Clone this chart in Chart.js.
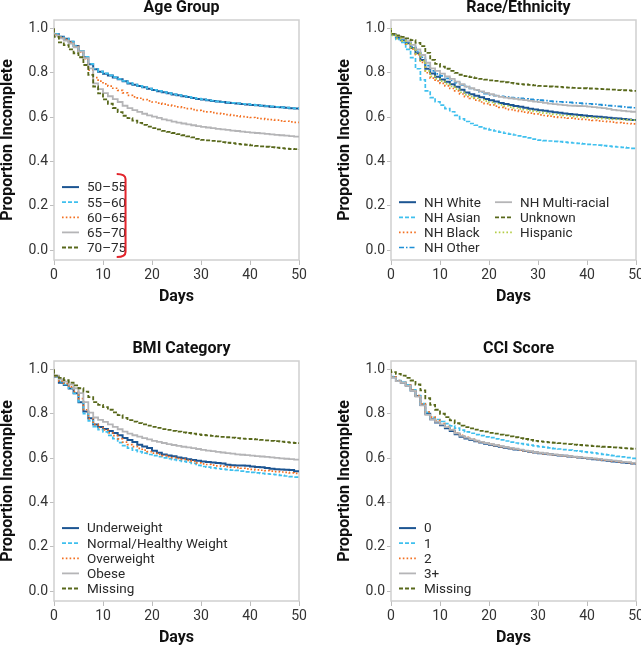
<!DOCTYPE html>
<html>
<head>
<meta charset="utf-8">
<script src="https://cdn.jsdelivr.net/npm/chart.js@4.4.1/dist/chart.umd.min.js"></script>
<style>
  html, body { margin: 0; padding: 0; background: #fff; }
  body { width: 641px; height: 647px; overflow: hidden; position: relative; }
  canvas { position: absolute; }
</style>
</head>
<body>
<canvas id="age" width="320" height="306" style="left:0;top:0"></canvas>
<canvas id="race" width="320" height="306" style="left:337px;top:0"></canvas>
<canvas id="bmi" width="320" height="306" style="left:0;top:341px"></canvas>
<canvas id="cci" width="320" height="306" style="left:337px;top:341px"></canvas>
<script>
// follow-up days (one value per day, value after that day's drop)
const days = Array.from({ length: 51 }, (_, i) => i);
const xTicks = [0, 10, 20, 30, 40, 50];
const yTicks = [0, 0.2, 0.4, 0.6, 0.8, 1.0];

// ---- Age Group ----
const ageLabels = ["50–55", "55–60", "60–65", "65–70", "70–75"];
const age50 = [0.974,0.962,0.953,0.940,0.921,0.898,0.870,0.838,0.816,0.804,0.796,0.787,0.779,0.771,0.762,0.752,0.746,0.740,0.734,0.728,0.722,0.717,0.712,0.707,0.702,0.698,0.694,0.690,0.686,0.682,0.679,0.676,0.673,0.670,0.668,0.665,0.663,0.661,0.659,0.657,0.655,0.653,0.651,0.649,0.647,0.645,0.644,0.642,0.640,0.639,0.637];
const age55 = [0.975,0.963,0.954,0.941,0.922,0.899,0.872,0.840,0.818,0.806,0.797,0.788,0.780,0.772,0.763,0.754,0.747,0.741,0.735,0.729,0.723,0.718,0.713,0.708,0.703,0.699,0.695,0.691,0.687,0.683,0.680,0.677,0.674,0.671,0.668,0.666,0.664,0.662,0.660,0.658,0.656,0.654,0.652,0.650,0.648,0.646,0.644,0.643,0.641,0.639,0.638];
const age60 = [0.972,0.960,0.950,0.937,0.918,0.894,0.864,0.812,0.778,0.762,0.750,0.740,0.730,0.720,0.709,0.698,0.691,0.685,0.679,0.673,0.668,0.663,0.658,0.654,0.650,0.646,0.642,0.638,0.634,0.630,0.626,0.623,0.620,0.617,0.614,0.611,0.608,0.605,0.602,0.600,0.598,0.595,0.593,0.590,0.588,0.586,0.583,0.581,0.578,0.576,0.574];
const age65 = [0.968,0.955,0.945,0.932,0.915,0.896,0.866,0.820,0.752,0.726,0.708,0.694,0.681,0.668,0.651,0.640,0.631,0.623,0.615,0.608,0.602,0.596,0.590,0.585,0.579,0.575,0.571,0.567,0.563,0.559,0.556,0.553,0.550,0.547,0.544,0.542,0.539,0.537,0.534,0.532,0.530,0.528,0.526,0.524,0.522,0.520,0.518,0.516,0.514,0.512,0.510];
const age70 = [0.962,0.937,0.925,0.905,0.888,0.870,0.835,0.790,0.738,0.707,0.680,0.660,0.641,0.622,0.606,0.595,0.584,0.574,0.565,0.557,0.550,0.544,0.538,0.533,0.528,0.523,0.518,0.513,0.508,0.502,0.497,0.495,0.493,0.490,0.487,0.484,0.482,0.479,0.477,0.475,0.472,0.470,0.468,0.466,0.464,0.462,0.460,0.458,0.456,0.455,0.453];

// ---- Race/Ethnicity ----
const raceLabels = ["NH White", "NH Asian", "NH Black", "NH Other", "NH Multi-racial", "Unknown", "Hispanic"];
const raceWhite = [0.972,0.958,0.947,0.933,0.912,0.888,0.858,0.818,0.797,0.782,0.770,0.759,0.748,0.737,0.723,0.711,0.703,0.696,0.689,0.682,0.676,0.670,0.664,0.659,0.654,0.650,0.646,0.642,0.638,0.634,0.631,0.628,0.625,0.622,0.619,0.616,0.614,0.612,0.609,0.607,0.605,0.603,0.601,0.599,0.597,0.595,0.593,0.591,0.589,0.587,0.585];
const raceAsian = [0.970,0.950,0.937,0.905,0.868,0.818,0.768,0.718,0.688,0.669,0.654,0.638,0.624,0.608,0.592,0.580,0.571,0.563,0.556,0.548,0.542,0.537,0.532,0.527,0.523,0.519,0.515,0.511,0.506,0.500,0.496,0.494,0.492,0.490,0.489,0.487,0.485,0.483,0.481,0.479,0.477,0.475,0.473,0.471,0.469,0.467,0.465,0.463,0.461,0.459,0.457];
const raceBlack = [0.970,0.955,0.944,0.929,0.907,0.882,0.847,0.800,0.776,0.763,0.752,0.741,0.729,0.718,0.704,0.692,0.684,0.676,0.668,0.661,0.655,0.649,0.644,0.639,0.634,0.630,0.626,0.622,0.618,0.614,0.610,0.607,0.604,0.601,0.599,0.597,0.595,0.593,0.591,0.589,0.587,0.585,0.583,0.581,0.579,0.577,0.575,0.573,0.571,0.569,0.567];
const raceOther = [0.972,0.960,0.950,0.937,0.918,0.897,0.870,0.832,0.808,0.795,0.786,0.775,0.765,0.755,0.745,0.737,0.729,0.721,0.713,0.706,0.700,0.697,0.694,0.691,0.688,0.686,0.684,0.682,0.680,0.678,0.676,0.674,0.672,0.670,0.669,0.667,0.666,0.664,0.663,0.661,0.660,0.658,0.656,0.654,0.652,0.650,0.648,0.646,0.644,0.642,0.640];
const raceMulti = [0.975,0.965,0.955,0.943,0.926,0.905,0.880,0.845,0.820,0.808,0.796,0.784,0.772,0.760,0.748,0.737,0.730,0.723,0.716,0.709,0.703,0.697,0.691,0.688,0.685,0.682,0.679,0.676,0.673,0.670,0.667,0.664,0.661,0.658,0.656,0.654,0.652,0.651,0.650,0.649,0.647,0.645,0.643,0.640,0.637,0.632,0.630,0.628,0.626,0.624,0.622];
const raceUnknown = [0.975,0.968,0.962,0.955,0.947,0.935,0.920,0.890,0.858,0.840,0.828,0.818,0.808,0.799,0.791,0.785,0.780,0.776,0.772,0.769,0.766,0.763,0.760,0.757,0.754,0.751,0.749,0.747,0.745,0.743,0.741,0.740,0.738,0.737,0.736,0.734,0.733,0.732,0.731,0.730,0.729,0.728,0.727,0.726,0.725,0.724,0.722,0.721,0.720,0.718,0.717];
const raceHispanic = [0.968,0.955,0.944,0.930,0.910,0.886,0.854,0.808,0.784,0.772,0.762,0.750,0.738,0.726,0.712,0.700,0.692,0.685,0.678,0.672,0.666,0.660,0.655,0.650,0.645,0.641,0.637,0.633,0.629,0.625,0.621,0.618,0.615,0.612,0.610,0.607,0.605,0.603,0.601,0.599,0.598,0.596,0.595,0.593,0.592,0.590,0.589,0.588,0.587,0.586,0.585];

// ---- BMI Category ----
const bmiLabels = ["Underweight", "Normal/Healthy Weight", "Overweight", "Obese", "Missing"];
const bmiUnder = [0.968,0.940,0.930,0.914,0.892,0.852,0.810,0.780,0.752,0.740,0.731,0.722,0.713,0.703,0.690,0.681,0.672,0.660,0.652,0.645,0.633,0.624,0.616,0.612,0.608,0.603,0.599,0.595,0.591,0.588,0.585,0.582,0.580,0.578,0.576,0.570,0.568,0.567,0.566,0.565,0.562,0.560,0.558,0.555,0.552,0.549,0.548,0.547,0.546,0.541,0.537];
const bmiNormal = [0.968,0.945,0.932,0.915,0.892,0.855,0.800,0.768,0.742,0.728,0.718,0.702,0.688,0.670,0.656,0.645,0.636,0.629,0.622,0.616,0.611,0.606,0.601,0.597,0.593,0.589,0.585,0.581,0.576,0.567,0.562,0.559,0.556,0.553,0.550,0.548,0.546,0.544,0.541,0.538,0.535,0.533,0.531,0.529,0.527,0.525,0.522,0.519,0.516,0.514,0.512];
const bmiOver = [0.968,0.947,0.936,0.921,0.900,0.868,0.818,0.778,0.752,0.738,0.727,0.714,0.701,0.687,0.672,0.661,0.652,0.644,0.636,0.629,0.622,0.616,0.611,0.606,0.602,0.598,0.594,0.590,0.585,0.578,0.574,0.571,0.568,0.565,0.563,0.561,0.559,0.557,0.554,0.551,0.549,0.547,0.545,0.543,0.541,0.539,0.537,0.535,0.533,0.531,0.530];
const bmiObese = [0.972,0.955,0.945,0.932,0.915,0.893,0.852,0.805,0.783,0.772,0.763,0.752,0.741,0.730,0.719,0.710,0.703,0.697,0.690,0.684,0.678,0.673,0.668,0.663,0.659,0.655,0.651,0.648,0.645,0.641,0.637,0.634,0.631,0.628,0.625,0.622,0.620,0.617,0.615,0.613,0.611,0.609,0.607,0.605,0.603,0.601,0.599,0.597,0.595,0.593,0.591];
const bmiMissing = [0.972,0.962,0.952,0.940,0.928,0.915,0.900,0.875,0.852,0.840,0.830,0.818,0.806,0.794,0.781,0.771,0.764,0.758,0.752,0.746,0.741,0.736,0.731,0.727,0.723,0.719,0.716,0.713,0.710,0.707,0.704,0.702,0.700,0.698,0.696,0.694,0.692,0.690,0.688,0.687,0.686,0.684,0.682,0.680,0.678,0.676,0.674,0.672,0.670,0.668,0.666];

// ---- CCI Score ----
const cciLabels = ["0", "1", "2", "3+", "Missing"];
const cci0 = [0.965,0.948,0.940,0.927,0.905,0.880,0.840,0.800,0.775,0.760,0.748,0.735,0.722,0.707,0.696,0.688,0.682,0.676,0.670,0.665,0.660,0.656,0.651,0.647,0.643,0.639,0.636,0.632,0.628,0.625,0.622,0.619,0.617,0.614,0.612,0.610,0.607,0.605,0.603,0.600,0.598,0.595,0.593,0.590,0.588,0.585,0.583,0.580,0.578,0.575,0.572];
const cci1 = [0.968,0.950,0.942,0.930,0.908,0.882,0.846,0.806,0.784,0.774,0.765,0.755,0.745,0.735,0.726,0.718,0.712,0.706,0.701,0.696,0.692,0.687,0.682,0.677,0.672,0.668,0.665,0.662,0.658,0.655,0.652,0.649,0.646,0.643,0.641,0.638,0.636,0.633,0.631,0.628,0.626,0.623,0.620,0.617,0.614,0.611,0.608,0.605,0.602,0.599,0.596];
const cci2 = [0.966,0.949,0.941,0.928,0.907,0.882,0.845,0.808,0.785,0.770,0.756,0.742,0.729,0.714,0.702,0.693,0.686,0.679,0.673,0.667,0.662,0.657,0.652,0.648,0.644,0.640,0.636,0.632,0.629,0.626,0.623,0.620,0.617,0.615,0.612,0.610,0.608,0.605,0.603,0.601,0.599,0.596,0.594,0.591,0.589,0.586,0.584,0.581,0.579,0.576,0.573];
const cci3 = [0.963,0.947,0.939,0.926,0.903,0.877,0.838,0.795,0.775,0.763,0.752,0.740,0.727,0.712,0.700,0.692,0.685,0.679,0.673,0.668,0.663,0.658,0.654,0.650,0.646,0.642,0.638,0.634,0.630,0.627,0.624,0.621,0.618,0.616,0.613,0.611,0.609,0.606,0.604,0.602,0.600,0.598,0.596,0.593,0.591,0.588,0.586,0.583,0.581,0.578,0.576];
const cciMissing = [0.988,0.980,0.972,0.962,0.950,0.932,0.905,0.870,0.840,0.818,0.800,0.785,0.770,0.757,0.746,0.740,0.734,0.728,0.723,0.719,0.714,0.710,0.706,0.702,0.698,0.694,0.690,0.686,0.682,0.678,0.675,0.673,0.671,0.669,0.667,0.665,0.663,0.661,0.659,0.657,0.656,0.654,0.653,0.651,0.650,0.648,0.647,0.645,0.644,0.642,0.641];

const FONT = "Roboto, 'DejaVu Sans', sans-serif";

const lineStyles = {
  navy:   { borderColor: "#1c5592", borderWidth: 2,   borderDash: [] },
  sky:    { borderColor: "#3fc0ee", borderWidth: 1.7, borderDash: [4, 2] },
  orange: { borderColor: "#f37021", borderWidth: 1.7, borderDash: [1.6, 2.2] },
  grey:   { borderColor: "#b5b5b7", borderWidth: 1.8, borderDash: [] },
  olive:  { borderColor: "#58681b", borderWidth: 1.8, borderDash: [4, 2] },
  azure:  { borderColor: "#1f8fd6", borderWidth: 1.7, borderDash: [5, 2, 1.5, 2] },
  lime:   { borderColor: "#b4cd47", borderWidth: 1.7, borderDash: [1.6, 2.2] },
};

// frame, panel title, inset legend and optional bracket
const panelDecor = {
  id: "panelDecor",
  beforeDatasetsDraw(chart, args, opts) {
    const { ctx, chartArea: a } = chart;
    ctx.save();
    ctx.strokeStyle = "#cfcfcf";
    ctx.lineWidth = 1.5;
    ctx.strokeRect(a.left, a.top, a.right - a.left, a.bottom - a.top);
    ctx.restore();
  },
  afterDraw(chart, args, opts) {
    const { ctx, chartArea: a } = chart;
    ctx.save();
    ctx.fillStyle = "#111";
    ctx.font = "bold 16px " + FONT;
    ctx.textAlign = "center";
    ctx.textBaseline = "middle";
    ctx.fillText(opts.title, (a.left + a.right) / 2 + 5, 8);

    // legend
    ctx.font = "13.5px " + FONT;
    ctx.textAlign = "left";
    ctx.fillStyle = "#2a2a2a";
    const rows = opts.legendCols[0].length;
    opts.legendCols.forEach((col, c) => {
      col.forEach((di, r) => {
        const ds = chart.data.datasets[di];
        const x = a.left + 8 + c * 96;
        const y = a.top + 227.5 - (rows - 1 - r) * 15.1;
        ctx.strokeStyle = ds.borderColor;
        ctx.lineWidth = ds.borderWidth;
        ctx.setLineDash(ds.borderDash);
        ctx.beginPath();
        ctx.moveTo(x, y);
        ctx.lineTo(x + 17, y);
        ctx.stroke();
        ctx.setLineDash([]);
        ctx.fillText(ds.label, x + 25, y + 1);
      });
    });

    if (opts.bracket) {
      const b = opts.bracket;
      const xs = chart.scales.x, ys = chart.scales.y;
      const x0 = xs.getPixelForValue(b.x0), x1 = xs.getPixelForValue(b.x1);
      const y0 = ys.getPixelForValue(b.y0), y1 = ys.getPixelForValue(b.y1);
      ctx.strokeStyle = "#e2242b";
      ctx.lineWidth = 2;
      ctx.beginPath();
      ctx.moveTo(x0, y0);
      ctx.quadraticCurveTo(x1, y0, x1, y0 + 5);
      ctx.lineTo(x1, y1 - 5);
      ctx.quadraticCurveTo(x1, y1, x0, y1);
      ctx.stroke();
    }
    ctx.restore();
  },
};

function makePanel(id, title, labels, series, styles, legendCols, bracket) {
  const datasets = series.map((vals, i) => Object.assign({
    label: labels[i],
    data: [{ x: 0, y: 1 }].concat(vals.map((v, k) => ({ x: days[k], y: v }))),
    stepped: true,
    pointRadius: 0,
    fill: false,
    order: -i,
  }, lineStyles[styles[i]]));

  new Chart(document.getElementById(id), {
    type: "line",
    data: { datasets },
    plugins: [panelDecor],
    options: {
      responsive: false,
      animation: false,
      layout: { padding: { top: 20, right: 21, left: 0, bottom: 0 } },
      plugins: {
        legend: { display: false },
        tooltip: { enabled: false },
        panelDecor: { title, legendCols, bracket },
      },
      scales: {
        x: {
          type: "linear",
          min: 0,
          max: 50,
          afterBuildTicks: (s) => { s.ticks = xTicks.map((v) => ({ value: v })); },
          afterFit: (s) => { s.height = 46; },
          border: { display: false },
          grid: { drawOnChartArea: false, drawTicks: true, tickLength: 5, color: "#bdbdbd" },
          ticks: { color: "#333", font: { family: FONT, size: 14 }, padding: 2, maxRotation: 0 },
          title: { display: true, text: "Days", color: "#111", font: { family: FONT, size: 16, weight: "bold", lineHeight: 1 }, padding: { top: 0, bottom: 1 } },
        },
        y: {
          min: -0.045,
          max: 1.038,
          afterBuildTicks: (s) => { s.ticks = yTicks.map((v) => ({ value: v })); },
          afterFit: (s) => { s.width = 54; },
          border: { display: false },
          grid: { drawOnChartArea: false, drawTicks: true, tickLength: 4, color: "#bdbdbd" },
          ticks: { color: "#333", font: { family: FONT, size: 14 }, padding: 2, callback: (v) => v.toFixed(1) },
          title: { display: true, text: "Proportion Incomplete", color: "#111", font: { family: FONT, size: 16, weight: "bold", lineHeight: 1 }, padding: { top: 0, bottom: 0 } },
        },
      },
    },
  });
}

makePanel("age", "Age Group", ageLabels,
  [age50, age55, age60, age65, age70],
  ["navy", "sky", "orange", "grey", "olive"],
  [[0, 1, 2, 3, 4]],
  { x0: 12.8, x1: 14.6, y0: 0.343, y1: -0.032 });

makePanel("race", "Race/Ethnicity", raceLabels,
  [raceWhite, raceAsian, raceBlack, raceOther, raceMulti, raceUnknown, raceHispanic],
  ["navy", "sky", "orange", "azure", "grey", "olive", "lime"],
  [[0, 1, 2, 3], [4, 5, 6]]);

makePanel("bmi", "BMI Category", bmiLabels,
  [bmiUnder, bmiNormal, bmiOver, bmiObese, bmiMissing],
  ["navy", "sky", "orange", "grey", "olive"],
  [[0, 1, 2, 3, 4]]);

makePanel("cci", "CCI Score", cciLabels,
  [cci0, cci1, cci2, cci3, cciMissing],
  ["navy", "sky", "orange", "grey", "olive"],
  [[0, 1, 2, 3, 4]]);
</script>
</body>
</html>
